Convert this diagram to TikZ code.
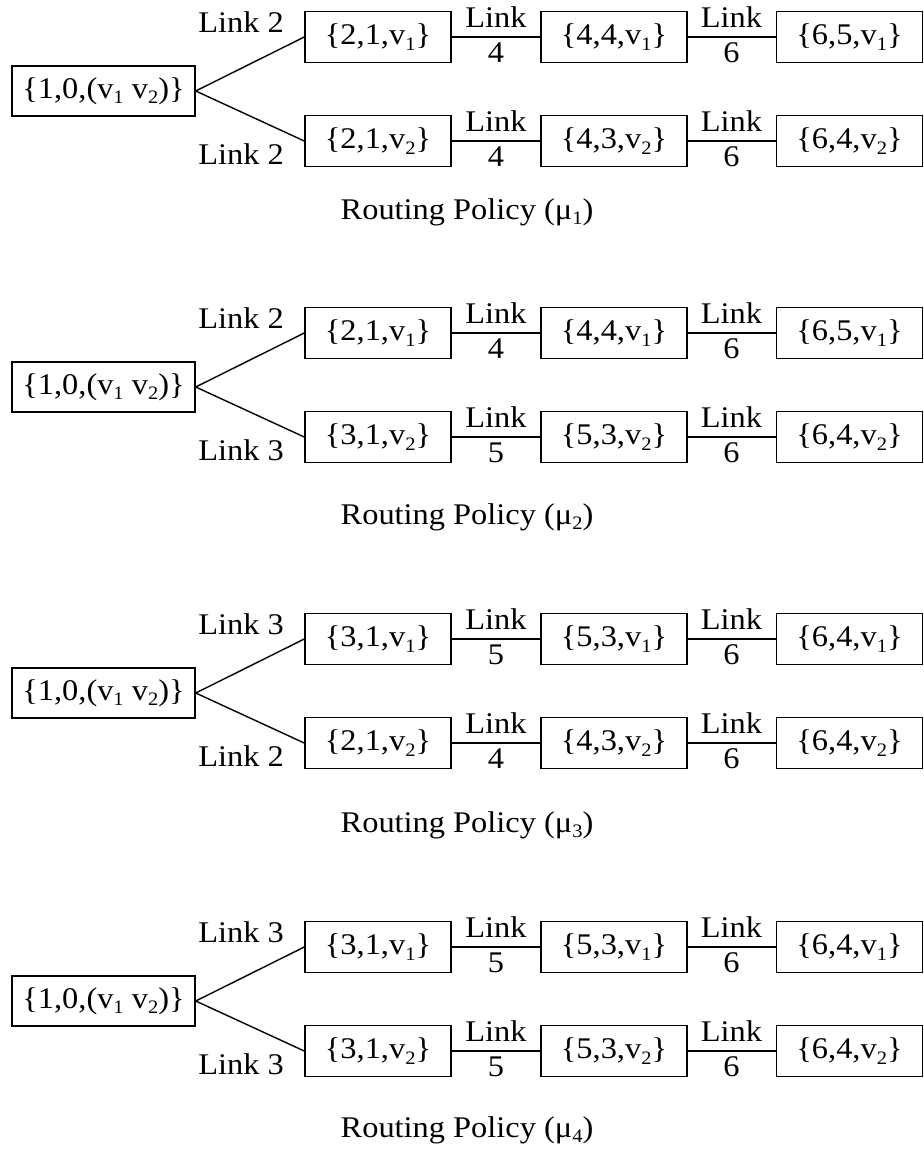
\documentclass[tikz,border=0pt]{standalone}
\usepackage{fontspec}
\setmainfont[FakeStretch=1.08]{Liberation Serif}
\newcommand\sbs[1]{\raisebox{-0.19em}{\fontsize{19}{19}\selectfont #1}}
\tikzset{
  every node/.style={font=\fontsize{30}{36}\selectfont},
  box/.style={draw, line width=1.5pt, minimum width=146pt, minimum height=51pt, inner sep=0pt},
  rootbox/.style={draw, line width=1.5pt, minimum width=183pt, minimum height=50pt, inner sep=0pt},
  lnk/.style={draw, line width=1.4pt},
  txt/.style={inner sep=0pt, anchor=base}
}
% #1 prefix, #2 y, #3 box1 nums, #4 link num, #5 box2 nums, #6 box3 nums, #7 v subscript
\newcommand\prow[7]{%
  \node[box] (#1a) at (378,#2) {\{#3,v\sbs{#7}\}};
  \node[box] (#1b) at (614,#2) {\{#5,v\sbs{#7}\}};
  \node[box] (#1c) at (849.5,#2) {\{#6,v\sbs{#7}\}};
  \draw[lnk] (#1a) -- (#1b);
  \draw[lnk] (#1b) -- (#1c);
  \node[txt] (#1la) at (496,#2-10) {Link};
  \node[txt] (#1na) at (496,#2+25) {#4};
  \node[txt] (#1lb) at (731.5,#2-10) {Link};
  \node[txt] (#1nb) at (731.5,#2+25) {6};
}
% #1 prefix, #2 yT, #3 routing baseline, #4 top diag, #5 bottom diag, #6 mu index
\newcommand\pblock[6]{%
  \node[rootbox] (#1r) at (103.5,#2+54) {\{1,0,(v\sbs{1} v\sbs{2})\}};
  \draw[lnk] (#1r.east) -- (#1ta.west);
  \draw[lnk] (#1r.east) -- (#1ba.west);
  \node[txt] (#1dt) at (241,#2-5) {Link #4};
  \node[txt] (#1db) at (241,#2+127) {Link #5};
  \node[txt] (#1rp) at (467,#3) {Routing Policy (μ\sbs{#6})};
}
\begin{document}
\begin{tikzpicture}[x=1pt,y=-1pt]
\useasboundingbox (0,0) rectangle (924,1152);
% block 1
\prow{At}{37}{2,1}{4}{4,4}{6,5}{1}
\prow{Ab}{141}{2,1}{4}{4,3}{6,4}{2}
\pblock{A}{37}{219}{2}{2}{1}
% block 2
\prow{Bt}{333}{2,1}{4}{4,4}{6,5}{1}
\prow{Bb}{437}{3,1}{5}{5,3}{6,4}{2}
\pblock{B}{333}{524}{2}{3}{2}
% block 3
\prow{Ct}{639}{3,1}{5}{5,3}{6,4}{1}
\prow{Cb}{743}{2,1}{4}{4,3}{6,4}{2}
\pblock{C}{639}{832}{3}{2}{3}
% block 4
\prow{Dt}{947}{3,1}{5}{5,3}{6,4}{1}
\prow{Db}{1051}{3,1}{5}{5,3}{6,4}{2}
\pblock{D}{947}{1137}{3}{3}{4}
\end{tikzpicture}
\end{document}
